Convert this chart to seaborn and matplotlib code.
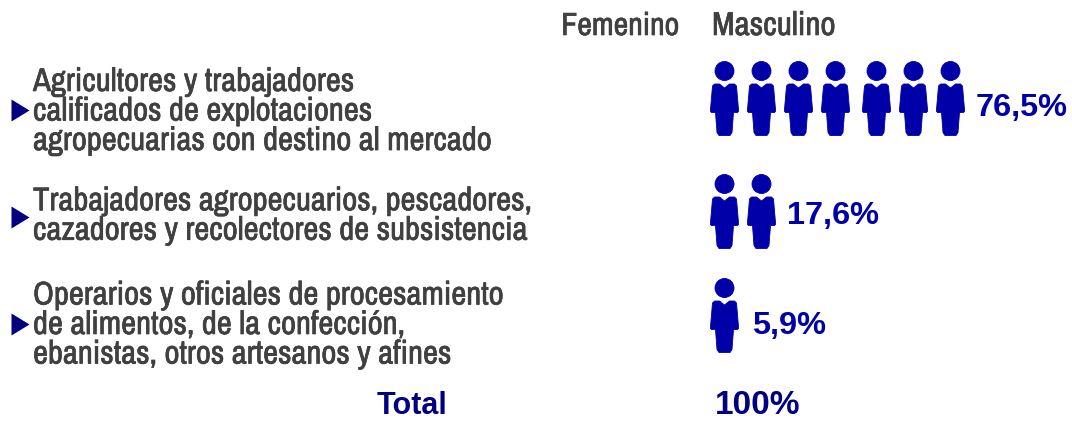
import matplotlib
matplotlib.use('Agg')
import matplotlib.pyplot as plt
import matplotlib.patheffects as pe
from matplotlib.path import Path
import pandas as pd
import seaborn as sns

categories = [
    "Agricultores y trabajadores\ncalificados de explotaciones\nagropecuarias con destino al mercado",
    "Trabajadores agropecuarios, pescadores,\ncazadores y recolectores de subsistencia",
    "Operarios y oficiales de procesamiento\nde alimentos, de la confección,\nebanistas, otros artesanos y afines",
]
icon_counts = [7, 2, 1]
share_labels = ["76,5%", "17,6%", "5,9%"]
header_labels = ["Femenino", "Masculino"]
total_label = "Total"
total_value = "100%"

sns.set_theme(style="white")
plt.rcParams['font.family'] = ['Archivo Narrow', 'Liberation Sans', 'DejaVu Sans']

GREY = "#404040"
BLUE = "#0000a8"
NAVY = "#000080"

# the reference text is a bit heavier than the font's medium weight
thicker = [pe.withStroke(linewidth=0.5, foreground=GREY)]


def person_marker():
    # head plus body, in pixels around the middle of the figure
    head = Path.circle((0, 27.5), 9.5)
    body = Path([(-10, 14.5), (-5, 14.5), (0, 10.5), (5, 14.5), (10, 14.5), (12, 12.5),
                 (14, -11), (14, -13), (13, -14), (9, -14), (7.5, -34), (5.5, -37),
                 (-5.5, -37), (-7.5, -34), (-9, -14), (-13, -14), (-14, -13), (-14, -11),
                 (-12, 12.5), (-10, 14.5)])
    return Path.make_compound_path(head, body)


def arrow_marker():
    return Path([(-9, -11), (9, 0), (-9, 11), (-9, -11)])


arrow_y = [110, 217, 324]
icon_y = [98, 211, 315]
text_y = [111.5, 216, 325]
value_y = [108, 216, 326]
value_x = [976, 787, 752]
first_x = 724
step = 37

rows = []
for i, n in enumerate(icon_counts):
    for k in range(n):
        # small gap after the fourth figure
        rows.append({"x": first_x + step * k + (4 if k >= 4 else 0), "y": icon_y[i]})
icons = pd.DataFrame(rows)
arrows = pd.DataFrame({"x": [20, 20, 20], "y": arrow_y})

fig, ax = plt.subplots(figsize=(10.72, 4.21), dpi=100)
fig.subplots_adjust(left=0, right=1, top=1, bottom=0)

sns.scatterplot(data=icons, x="x", y="y", marker=person_marker(), s=(74 * 0.72) ** 2,
                color=BLUE, edgecolor=BLUE, linewidth=0.6, ax=ax)
sns.scatterplot(data=arrows, x="x", y="y", marker=arrow_marker(), s=(22 * 0.72) ** 2,
                color=NAVY, linewidth=0, ax=ax)

ax.set_xlim(0, 1072)
ax.set_ylim(421, 0)
ax.axis("off")

ax.text(679, 26, header_labels[0], ha="right", va="center", fontsize=23, fontweight=600,
        color=GREY, path_effects=thicker)
ax.text(712, 26, header_labels[1], ha="left", va="center", fontsize=23.8, fontweight=600,
        color=GREY, path_effects=thicker)

for i, lab in enumerate(categories):
    ax.text(33, text_y[i], lab, ha="left", va="center", fontsize=23.6, fontweight=600,
            color=GREY, linespacing=0.98, path_effects=thicker)

for i, lab in enumerate(share_labels):
    ax.text(value_x[i], value_y[i], lab, ha="left", va="center", fontsize=23.4,
            fontweight="bold", family="Liberation Sans", color=BLUE)

ax.text(412, 406, total_label, ha="center", va="center", fontsize=22, fontweight="bold",
        family="Liberation Sans", color=NAVY)
ax.text(715, 406, total_value, ha="left", va="center", fontsize=24, fontweight="bold",
        family="Liberation Sans", color=NAVY)

fig.savefig("out.png", dpi=100)
